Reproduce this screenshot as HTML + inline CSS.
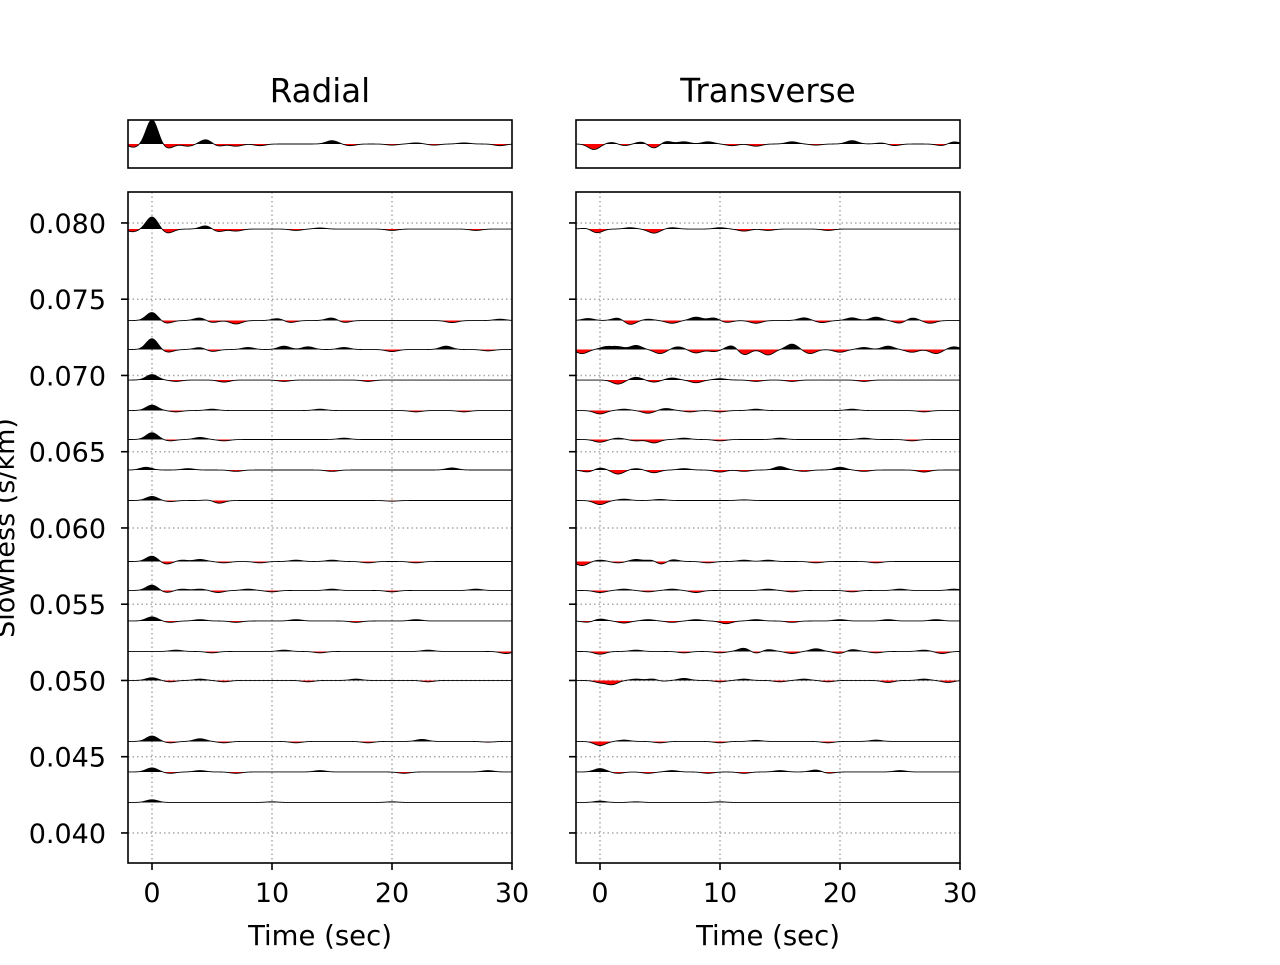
<!DOCTYPE html>
<html><head><meta charset="utf-8"><style>
body{margin:0;background:#fff}
svg text{font-family:"DejaVu Sans","Liberation Sans",sans-serif;fill:#000}
</style></head><body>
<svg id="chart" width="1280" height="960" viewBox="0 0 1280 960"></svg>
<script>
const xTicks=[0,10,20,30];
const yTicks=[0.040,0.045,0.050,0.055,0.060,0.065,0.070,0.075,0.080];
const yTickLabels=["0.040","0.045","0.050","0.055","0.060","0.065","0.070","0.075","0.080"];
const panelTitles=["Radial","Transverse"];
const slowness=[0.0796,0.0736,0.0717,0.0697,0.0677,0.0658,0.0638,0.0618,0.0578,0.0559,0.0539,0.0519,0.0500,0.0460,0.0440,0.0420];
const radialTraces=[
[[-1.6,-2],[0,9],[1.3,-3],[4.5,2.5],[5.5,-2],[7,-1.5],[12,-1],[14,0.8],[20,-1],[27,-1]],
[[0,6],[1.2,-2],[4,2],[5,-1.5],[7,-2.5],[10.5,1.5],[11.5,-1.5],[15,2],[16,-1.5],[25,-1.5],[29,1]],
[[0,8],[1.3,-2],[4,1.5],[5,-1.5],[8,1.5],[11,2.5],[13,2],[16,1.5],[20,-1.5],[24.5,2.5],[28,-1]],
[[0,4],[2,-1],[6,-1.5],[11,-1],[18,-1]],
[[0,4],[2,-1],[5,1],[14,1],[22,-1],[26,-1]],
[[0,5],[1.5,-1],[4,1.5],[6,-1],[16,1]],
[[-0.5,2],[3,1],[7,-1],[15,-1],[25,1.5]],
[[0,3],[1.5,-0.8],[5,1],[5.5,-2.5],[20,-0.5]],
[[0,4],[1.2,-2],[2.5,1],[4,1.5],[6,-1],[9,-1],[12,1],[15,1],[18,-1],[22,-1]],
[[0,4],[1.2,-1.5],[2.5,1],[4,1],[5.5,-1.5],[8,1],[10,-1],[15,1],[20,-1],[27,1]],
[[0,3],[1.5,-1],[4,1],[7,-1],[12,1],[17,-1],[22,1]],
[[2,1],[5,-1],[11,1],[14,-1],[23,1],[29.5,-1.5]],
[[0,2],[1.5,-1],[4,1],[6,-1],[13,-1],[17,1],[23,-1]],
[[0,4],[1.5,-1],[4,2],[6,-1],[12,-1],[18,-1],[22.5,1.5],[28,-0.5]],
[[0,3],[1.5,-1],[4,1],[7,-1],[14,1],[21,-1],[28,1]],
[[0,2],[10,0.5],[20,0.5]]];
const transverseTraces=[
[[-1,1],[-0.3,-3],[2.5,1],[4.5,-3],[6,1],[10,1],[12,-1.5],[14,-1],[19,-1]],
[[-1,1.5],[1.5,2],[2.5,-3],[4,1],[6,-2],[8,2.5],[9.5,2],[10.5,-1.5],[13,-2],[17,2],[18.5,-1.5],[21,2],[23,2.5],[25,-2],[26,2],[27.5,-2]],
[[-1.5,-3],[0.5,2],[1.5,2],[3,3],[5,-3],[6.5,2],[8,-2.5],[9.5,-1.5],[11,3],[12,-4],[14,-4],[16,4],[17.5,-3],[20,-2],[22,1.5],[24,2.5],[26,-2],[28,-3],[29.5,2]],
[[1.5,-3],[3,2],[4.5,-1.5],[6,1.5],[8,-2],[10,1],[13,-1],[16,-1],[22,-1]],
[[0,-2.5],[2,1],[4,-2],[5.5,1.5],[7.5,-1],[10,-1],[13,1],[21,1],[27,-1]],
[[0,-2],[1.5,1],[3,-1],[4.5,-2.5],[7,1],[10,-1],[15,1],[22,1],[26,-1]],
[[-1,-1.5],[0,1.5],[1.5,-3],[3,1],[4.5,-2],[7,1],[10,-1.5],[12,-1],[15,2.5],[17,-1],[20,2],[22,-1],[27,-1.5]],
[[0,-3],[2,1],[5,0.8],[12,0.5]],
[[-1.5,-3],[0,1],[1.5,-1],[3,1.5],[4.5,2],[5,-3],[6,1.5],[9,-1],[12,1],[14,1],[18,-1],[23,-1]],
[[0,-1.5],[2,1],[4,-1],[6,1],[8,-1.5],[14,1],[16,-1],[21,-1],[25,1],[29.5,1]],
[[-1,-1],[0,1.5],[2,-1.5],[4,1],[6,-1],[8,1],[10.5,-2],[13,1],[16,-1],[20,1],[24,1],[28,1]],
[[0,-2],[3,1],[7,-1],[10,-1],[12,2.5],[13,-1.5],[14,1.5],[16,-1.5],[18,2],[20,-1.5],[21,1.5],[23,-1],[27,1],[28.5,-1.5]],
[[0,-1.5],[1,-3],[3,1],[4.5,1.5],[5,-1],[7,1.5],[10,-1],[12,1],[15,-1],[17,1],[19,-1],[24,-1.5],[27,1],[29,-1.5]],
[[0,-3],[2,1],[5,-1],[10,-1],[13,0.8],[19,-1],[23,1]],
[[0,2.5],[1.5,-1],[4,-1],[6,1],[9,-1],[12,-1],[15,1],[18,1.5],[19,-1],[25,1]],
[[0,1],[3,0.5],[10,0.5]]];
const radialStack=[[-1.5,-3],[0,22],[1.3,-4],[3,-2],[4.5,4],[5.5,-2],[7,-2],[9,-1.5],[15,3],[16.5,-1.5],[20,-1],[22,1],[23.5,-1],[26,1],[29,-1.5]];
const transverseStack=[[-0.5,-5],[1,1.5],[2,-1.5],[3.5,2],[4.5,-4],[5.5,2.5],[7,2],[9,2],[11,-1.5],[13,-2],[16,2],[18,-1],[21,3],[23.5,1],[24.5,-1.5],[28.5,-1.5],[29.5,2]];

const NS="http://www.w3.org/2000/svg";
const svg=document.getElementById('chart');
function el(tag,attrs,parent){const e=document.createElementNS(NS,tag);for(const k in attrs)e.setAttribute(k,attrs[k]);(parent||svg).appendChild(e);return e;}
const T0=-2,T1=30,S0=0.03803,S1=0.08203;
const panels=[{x0:128,x1:512,traces:radialTraces,stack:radialStack,key:'radial'},{x0:576,x1:960,traces:transverseTraces,stack:transverseStack,key:'transverse'}];
const mainTop=192,mainBot=863,stTop=120,stBot=168;
function sig(w,t,k){let v=0;for(const [c,a] of w){v+=a*Math.exp(-((t-c)*(t-c))/(2*0.48*0.48));}return v*k;}
function drawTrace(g,w,xs,base,name,k){
  let pos=`M${xs(T0)},${base}`,neg=pos,line='';
  for(let t=T0;t<=T1+1e-9;t+=0.04){const v=sig(w,t,k);const x=xs(t).toFixed(2);
    pos+=`L${x},${(base-Math.max(v,0)).toFixed(2)}`;neg+=`L${x},${(base-Math.min(v,0)).toFixed(2)}`;
    line+=(line?'L':'M')+`${x},${(base-v).toFixed(2)}`;}
  pos+=`L${xs(T1)},${base}Z`;neg+=`L${xs(T1)},${base}Z`;
  const p1=el('path',{d:neg,fill:'#ff0000',stroke:'none'},g);
  
  
  const p2=el('path',{d:pos,fill:'#000',stroke:'none'},g);
  
  
  const p3=el('path',{d:line,fill:'none',stroke:'#000','stroke-width':0.9},g);
  
  
}
panels.forEach((P,pi)=>{
  const xs=t=>P.x0+(t-T0)/(T1-T0)*(P.x1-P.x0);
  const ys=s=>mainBot-(s-S0)/(S1-S0)*(mainBot-mainTop);
  const g=el('g',{});
  
  
  xTicks.forEach(t=>{if(t<T1){const l=el('line',{x1:xs(t),x2:xs(t),y1:mainTop,y2:mainBot,stroke:'#a8a8a8','stroke-width':1.5,'stroke-dasharray':'1.5,3'},g);
    }});
  yTicks.forEach(s=>{const l=el('line',{x1:P.x0,x2:P.x1,y1:ys(s),y2:ys(s),stroke:'#a8a8a8','stroke-width':1.5,'stroke-dasharray':'1.5,3'},g);
    });
  P.traces.forEach((w,i)=>drawTrace(g,w,xs,ys(slowness[i]),P.key+'-trace-'+i,1.35));
  const fr=el('rect',{x:P.x0,y:mainTop,width:P.x1-P.x0,height:mainBot-mainTop,fill:'none',stroke:'#000','stroke-width':1.6},g);
  
  xTicks.forEach(t=>{el('line',{x1:xs(t),x2:xs(t),y1:mainBot,y2:mainBot+7,stroke:'#000','stroke-width':1.6},g);
    const tx=el('text',{x:xs(t),y:mainBot+39,'text-anchor':'middle','font-size':27},g);tx.textContent=t;
    });
  yTicks.forEach((s,i)=>{el('line',{x1:P.x0-7,x2:P.x0,y1:ys(s),y2:ys(s),stroke:'#000','stroke-width':1.6},g);
    if(pi===0){const tx=el('text',{x:P.x0-22,y:ys(s)+10,'text-anchor':'end','font-size':27},g);tx.textContent=yTickLabels[i];
    }});
  const xl=el('text',{x:(P.x0+P.x1)/2,y:945,'text-anchor':'middle','font-size':27.5},g);xl.textContent='Time (sec)';
  
  const sg=el('g',{});
  
  
  drawTrace(sg,P.stack,xs,144,P.key+'-stack',1.1);
  el('rect',{x:P.x0,y:stTop,width:P.x1-P.x0,height:stBot-stTop,fill:'none',stroke:'#000','stroke-width':1.6},sg);
  const tt=el('text',{x:(P.x0+P.x1)/2,y:102,'text-anchor':'middle','font-size':32.5},sg);tt.textContent=panelTitles[pi];
  
});
const yl=el('text',{x:0,y:0,'text-anchor':'middle','font-size':27,transform:'translate(14,528) rotate(-90)'});
yl.textContent='Slowness (s/km)';


</script>
</body></html>
